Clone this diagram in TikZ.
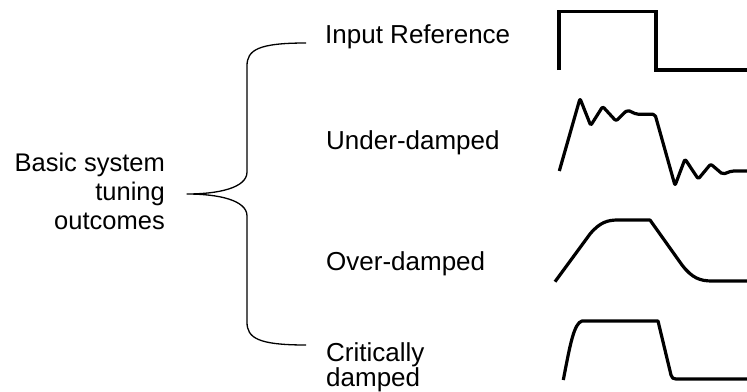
\documentclass[tikz,border=0pt]{standalone}
\usepackage{fontspec}
\setmainfont{Liberation Sans}
\begin{document}
\begin{tikzpicture}[x=1pt,y=-1pt,
  lbl/.style={anchor=base west,inner sep=0pt,font=\fontsize{26}{24}\selectfont},
  brace/.style={line width=1.3pt,line join=round},
  wave/.style={line width=3.2pt,line join=round},
]
\useasboundingbox (0,0) rectangle (747,391);
% left text
\node[anchor=east,inner sep=0pt,align=right,font=\fontsize{25.5}{29}\selectfont] (root) at (165,191)
  {Basic system\\tuning\\outcomes};
% labels
\node[lbl] (inref) at (325,43) {Input Reference};
\node[lbl] (under) at (326,149) {Under-damped};
\node[lbl] (over) at (326,270) {Over-damped};
\node[lbl,anchor=north west,align=left] (crit) at (326,342) {Critically\\damped};
% brace
\coordinate (tip) at (187,194);
\coordinate (topend) at (306,43);
\coordinate (botend) at (306,345);
\draw[brace] (topend) .. controls (258,43) and (247,50) .. (247,66)
  -- (247,172) .. controls (247,188) and (218,194) .. (tip)
  .. controls (218,194) and (247,200) .. (247,216)
  -- (247,322) .. controls (247,338) and (258,345) .. (botend);
% waveforms
\draw[wave,line join=miter] (559,70) -- (559,11.5) -- (656,11.5) -- (656,70) -- (747,70);
\draw[wave,rounded corners=2pt] (559.3,171) -- (580,98.5) -- (590.7,125.5) -- (602.7,106.5)
  -- (616,121) -- (627.3,110) -- (636.7,114.3) -- (655,114.3) -- (675,185.5)
  -- (685,159) -- (698.3,179) -- (710.7,164) -- (722.7,174.3) -- (731.7,171) -- (747,171);
\draw[wave] (555,281.7) -- (590,234) .. controls (600,222) and (608,220) .. (618,220)
  -- (650,220) -- (682,265) .. controls (692,278) and (700,281) .. (712,281) -- (747,281);
\draw[wave] (563.3,380) .. controls (570,345) and (574,323) .. (582,321) -- (658,321)
  -- (671,375) .. controls (672,378) and (673,379) .. (676,379) -- (747,379);
\end{tikzpicture}
\end{document}
